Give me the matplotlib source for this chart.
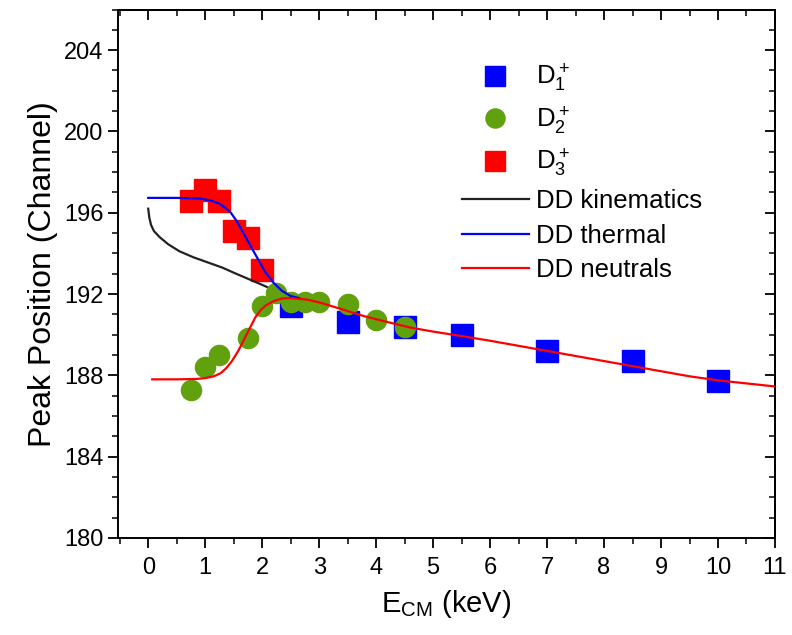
import numpy as np
import matplotlib
matplotlib.use("Agg")
import matplotlib.pyplot as plt

plt.rcParams['font.family'] = ['Liberation Sans', 'DejaVu Sans']
plt.rcParams['mathtext.default'] = 'regular'

# measured points
d1_x = [2.5, 3.5, 4.5, 5.5, 7.0, 8.5, 10.0]
d1_y = [191.4, 190.6, 190.4, 190.0, 189.2, 188.7, 187.7]

d2_x = [0.75, 1.0, 1.25, 1.75, 2.0, 2.25, 2.5, 2.75, 3.0, 3.5, 4.0, 4.5]
d2_y = [187.3, 188.4, 189.0, 189.85, 191.4, 192.05, 191.6, 191.6, 191.6, 191.5, 190.7, 190.4]

d3_x = [0.75, 1.0, 1.25, 1.5, 1.75, 2.0]
d3_y = [196.6, 197.1, 196.6, 195.1, 194.75, 193.2]

# model curves
kin_x = [0.0, 0.02, 0.05, 0.1, 0.2, 0.35, 0.55, 0.8, 1.05, 1.3, 1.5, 1.75, 2.0, 2.2, 2.35]
kin_y = [196.2, 195.75, 195.4, 195.1, 194.8, 194.45, 194.1, 193.8, 193.55, 193.3, 193.05, 192.75, 192.45, 192.2, 192.0]

th_x = [0.0, 0.5, 0.9, 1.1, 1.25, 1.35, 1.45, 1.55, 1.65, 1.75, 1.85, 1.95, 2.05, 2.2, 2.35, 2.5, 2.65]
th_y = [196.73, 196.73, 196.7, 196.6, 196.45, 196.25, 196.0, 195.6, 195.1, 194.6, 194.1, 193.6, 193.1, 192.55, 192.15, 191.9, 191.8]

neu_x = [0.07, 0.5, 0.85, 1.0, 1.15, 1.27, 1.37, 1.47, 1.58, 1.68, 1.78, 1.88, 1.97, 2.07, 2.2, 2.35, 2.5,
         2.8, 3.05, 3.4, 3.8, 4.2, 4.6, 5.0, 5.5, 6.0, 6.5, 7.0, 7.5, 8.0, 8.5, 9.0, 9.5, 10.0, 10.5, 11.0]
neu_y = [187.8, 187.8, 187.82, 187.86, 187.95, 188.1, 188.35, 188.7, 189.2, 189.75, 190.3, 190.85, 191.2, 191.45, 191.65, 191.78, 191.8,
         191.72, 191.55, 191.25, 190.9, 190.62, 190.35, 190.15, 189.93, 189.7, 189.45, 189.2, 188.95, 188.7, 188.45, 188.2, 187.95, 187.75, 187.6, 187.45]

xticks = list(range(0, 12))
yticks = [180, 184, 188, 192, 196, 200, 204]

fig = plt.figure(figsize=(7.92, 6.35), dpi=100)
ax = fig.add_axes([0.149, 0.153, 0.8295, 0.832])

ax.plot(d1_x, d1_y, 's', color='#0000ff', ms=15.5, mec='#0000ff', label='D$_1^+$', zorder=3)
ax.plot(d2_x, d2_y, 'o', color='#62a10e', ms=14.5, mec='#62a10e', label='D$_2^+$', zorder=4)
ax.plot(d3_x, d3_y, 's', color='#ff0000', ms=15.5, mec='#ff0000', label='D$_3^+$', zorder=3)
ax.plot(kin_x, kin_y, '-', color='#222222', lw=1.6, label='DD kinematics', zorder=3.5)
ax.plot(th_x, th_y, '-', color='#0000ff', lw=1.6, label='DD thermal', zorder=5)
ax.plot(neu_x, neu_y, '-', color='#ff0000', lw=1.6, label='DD neutrals', zorder=6)

ax.set_xlim(-0.53, 11)
ax.set_ylim(180, 206)
ax.set_xticks(xticks)
ax.set_xticks(np.arange(-0.5, 11.01, 0.5), minor=True)
ax.set_yticks(yticks)
ax.set_yticks(range(180, 207), minor=True)
ax.tick_params(axis='both', which='major', direction='out', length=7, width=1.3, labelsize=17)
ax.tick_params(axis='both', which='minor', direction='out', length=4, width=1.1)
ax.tick_params(axis='x', pad=7)

top = ax.secondary_xaxis('top')
top.set_xticks(xticks)
top.set_xticks(np.arange(-0.5, 11.01, 0.5), minor=True)
top.tick_params(which='major', direction='in', length=7, width=1.3, labeltop=False)
top.tick_params(which='minor', direction='in', length=4, width=1.1)
right = ax.secondary_yaxis('right')
right.set_yticks(yticks)
right.set_yticks(range(180, 207), minor=True)
right.tick_params(which='major', direction='in', length=7, width=1.3, labelright=False)
right.tick_params(which='minor', direction='in', length=4, width=1.1)

for sp in list(ax.spines.values()) + [top.spines['top'], right.spines['right']]:
    sp.set_linewidth(1.4)

ax.set_xlabel('E$_{CM}$ (keV)', fontsize=21, labelpad=6)
ax.set_ylabel('Peak Position (Channel)', fontsize=23, labelpad=4)

ax.legend(loc='upper right', bbox_to_anchor=(0.925, 0.945), frameon=False, fontsize=18.5,
          labelspacing=0.4, handlelength=2.6, handletextpad=0.3, markerscale=0.95)

fig.savefig('out.png', dpi=100)
